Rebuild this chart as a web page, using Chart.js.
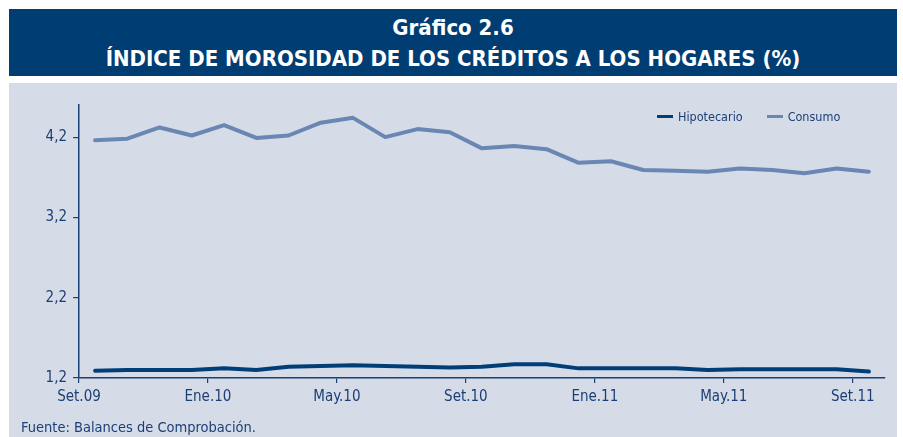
<!DOCTYPE html>
<html>
<head>
<meta charset="utf-8">
<script src="https://cdn.jsdelivr.net/npm/chart.js@4/dist/chart.umd.min.js"></script>
<style>
  body { margin: 0; background: #fff; width: 903px; height: 437px; overflow: hidden; position: relative; font-family: 'Liberation Sans Narrow', 'DejaVu Sans Condensed', sans-serif; }
  #banner { position: absolute; left: 9px; top: 9px; width: 888px; height: 67px; background: #003d73; color: #fff; text-align: center; font-weight: bold; font-size: 22px; line-height: 31px; padding-top: 3px; box-sizing: border-box; }
  #panel { position: absolute; left: 9px; top: 83px; width: 888px; height: 354px; background: #d5dce8; }
  #chart { position: absolute; left: 0; top: 0; }
  #legend { position: absolute; top: 109px; left: 657px; font-size: 12.5px; color: #1b3f75; white-space: nowrap; }
  #legend span.item { display: inline-block; margin-right: 24px; }
  #legend span.sw { display: inline-block; width: 16px; height: 3px; vertical-align: middle; margin-right: 5px; position: relative; top: -1px; }
  #footer { position: absolute; left: 21px; top: 419px; font-size: 14.5px; color: #1b3f75; }
</style>
</head>
<body>
<div id="banner">Gráfico 2.6<br>ÍNDICE DE MOROSIDAD DE LOS CRÉDITOS A LOS HOGARES (%)</div>
<div id="panel"></div>
<canvas id="chart" width="903" height="437"></canvas>
<div id="legend"></div>
<div id="footer">Fuente: Balances de Comprobación.</div>
<script>
// meses (Set.09 - Set.11)
const months = ['Set.09', 'Oct.09', 'Nov.09', 'Dic.09', 'Ene.10', 'Feb.10', 'Mar.10', 'Abr.10', 'May.10',
    'Jun.10', 'Jul.10', 'Ago.10', 'Set.10', 'Oct.10', 'Nov.10', 'Dic.10', 'Ene.11', 'Feb.11', 'Mar.11',
    'Abr.11', 'May.11', 'Jun.11', 'Jul.11', 'Ago.11', 'Set.11'];
const hipotecario = [1.29, 1.30, 1.30, 1.30, 1.32, 1.30, 1.34, 1.35, 1.36, 1.35, 1.34, 1.33, 1.34,
    1.37, 1.37, 1.32, 1.32, 1.32, 1.32, 1.30, 1.31, 1.31, 1.31, 1.31, 1.28];
const consumo = [4.16, 4.18, 4.32, 4.22, 4.35, 4.19, 4.22, 4.38, 4.44, 4.20, 4.30, 4.26, 4.06,
    4.09, 4.05, 3.88, 3.90, 3.79, 3.78, 3.77, 3.81, 3.79, 3.75, 3.81, 3.77];
const xTickLabels = ['Set.09', 'Ene.10', 'May.10', 'Set.10', 'Ene.11', 'May.11', 'Set.11'];
const yTicks = [1.2, 2.2, 3.2, 4.2];

const navy = '#1b3f75';
const font = { family: "'Liberation Sans Narrow', 'DejaVu Sans Condensed', sans-serif", size: 15 };

// ticks at the start of each labelled month
const xTickPos = xTickLabels.map(l => months.indexOf(l) - 0.5);
const toPoints = arr => arr.map((v, i) => ({ x: i, y: v }));

const datasets = [
    { label: 'Hipotecario', data: toPoints(hipotecario), borderColor: '#003e78', borderWidth: 4 },
    { label: 'Consumo', data: toPoints(consumo), borderColor: '#6a86b3', borderWidth: 4 }
];

new Chart(document.getElementById('chart'), {
    type: 'line',
    data: { datasets: datasets.map(d => Object.assign({ pointRadius: 0, tension: 0, fill: false, borderCapStyle: 'round', borderJoinStyle: 'round' }, d)) },
    options: {
        responsive: false,
        animation: false,
        layout: { padding: { left: 0, right: 18, top: 105, bottom: 29 } },
        plugins: { legend: { display: false }, tooltip: { enabled: false } },
        scales: {
            x: {
                type: 'linear',
                min: -0.5,
                max: 24.5,
                afterBuildTicks: axis => { axis.ticks = xTickPos.map(v => ({ value: v })); },
                afterFit: axis => { axis.height = 30; },
                grid: { drawOnChartArea: false, drawTicks: true, tickLength: 5, color: navy, lineWidth: 1.2 },
                border: { display: true, color: navy, width: 1.5 },
                ticks: { color: navy, font: font, padding: 5, autoSkip: false, maxRotation: 0,
                    callback: (v, i) => xTickLabels[i] }
            },
            y: {
                min: 1.2,
                max: 4.6,
                afterBuildTicks: axis => { axis.ticks = yTicks.map(v => ({ value: v })); },
                afterFit: axis => { axis.width = 79; },
                grid: { drawOnChartArea: false, drawTicks: true, tickLength: 6, color: navy, lineWidth: 1.2 },
                border: { display: true, color: navy, width: 1.5 },
                ticks: { color: navy, font: font, padding: 6,
                    callback: v => v.toFixed(1).replace('.', ',') }
            }
        }
    }
});

// legend
const legend = document.getElementById('legend');
datasets.forEach(d => {
    const item = document.createElement('span');
    item.className = 'item';
    item.innerHTML = '<span class="sw" style="background:' + d.borderColor + '"></span>' + d.label;
    legend.appendChild(item);
});
</script>
</body>
</html>
